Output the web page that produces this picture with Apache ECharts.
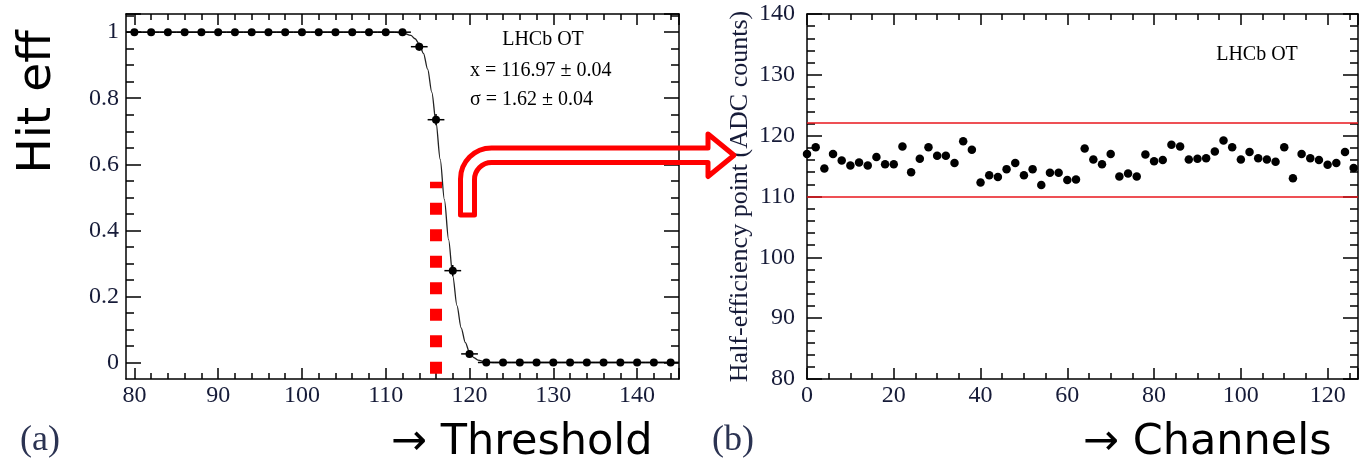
<!DOCTYPE html>
<html>
<head>
<meta charset="utf-8">
<script src="https://cdn.jsdelivr.net/npm/echarts@6/dist/echarts.min.js"></script>
<style>
html,body{margin:0;padding:0;background:#fff;}
#chart{width:1364px;height:466px;}
</style>
</head>
<body>
<div id="chart"></div>
<script>
// ---------- Panel (a): hit efficiency vs threshold ----------
const thresholds = [80,82,84,86,88,90,92,94,96,98,100,102,104,106,108,110,112,114,116,118,120,122,124,126,128,130,132,134,136,138,140,142,144];
const hitEff     = [1,1,1,1,1,1,1,1,1,1,1,1,1,1,1,1,1,0.956,0.735,0.278,0.026,0,0,0,0,0,0,0,0,0,0,0,0];
const hitEffErr  = [0,0,0,0,0,0,0,0,0,0,0,0,0,0,0,0,0,0.012,0.017,0.017,0.008,0,0,0,0,0,0,0,0,0,0,0,0];
const fitX = [79,110,111,112,113,113.5,114,114.5,115,115.5,116,116.5,117,117.5,118,118.5,119,119.5,120,120.5,121,122,123,145];
const fitY = [1,1,1,0.998,0.99,0.98,0.964,0.936,0.888,0.818,0.727,0.615,0.493,0.372,0.262,0.172,0.105,0.06,0.031,0.015,0.007,0.001,0,0];
const markerX = [116,116];
const markerY = [-0.034,0.547];
const xTicksA = [80,90,100,110,120,130,140];
const yTicksA = [0,0.2,0.4,0.6,0.8,1];

// ---------- Panel (b): half-efficiency point per channel ----------
const channels = [0,2,4,6,8,10,12,14,16,18,20,22,24,26,28,30,32,34,36,38,40,42,44,46,48,50,52,54,56,58,60,62,64,66,68,70,72,74,76,78,80,82,84,86,88,90,92,94,96,98,100,102,104,106,108,110,112,114,116,118,120,122,124,126];
const halfEff = [117.0,118.1,114.6,117.0,115.9,115.1,115.6,115.1,116.5,115.3,
                 115.3,118.2,114.0,116.2,118.1,116.7,116.7,115.5,119.1,117.7,
                 112.3,113.5,113.2,114.5,115.5,113.5,114.5,111.9,113.9,113.9,
                 112.7,112.8,117.9,116.1,115.3,117.0,113.3,113.8,113.3,116.9,
                 115.8,116.0,118.5,118.2,116.1,116.2,116.3,117.4,119.2,118.1,
                 116.1,117.3,116.3,116.1,115.7,118.1,113.0,117.0,116.3,116.0,
                 115.2,115.5,117.3,114.7];
const limitLines = [122.2,110];
const xTicksB = [0,20,40,60,80,100,120];
const yTicksB = [80,90,100,110,120,130,140];

// ---------- layout / style ----------
const W = 1364, H = 466;
const SERIF = '"Liberation Serif", "DejaVu Serif", serif';
const SANS = '"DejaVu Sans", Verdana, sans-serif';
const LABEL_COLOR = '#161b38';
const TICK = {color: '#000', width: 1.5};
const tickLabel = {fontFamily: SERIF, fontSize: 24, color: LABEL_COLOR};

// panel (a) frame range and geometry
const xA = [79, 145], yA = [-0.05, 1.055];
const gA = {left: 126, right: 685, top: 14, bottom: 87};
const pxPerX = (W - gA.left - gA.right) / (xA[1] - xA[0]);
const pxPerY = (H - gA.top - gA.bottom) / (yA[1] - yA[0]);
// overlay grids whose axis minimum sits on the first labelled tick
const gAx = {left: gA.left + (xTicksA[0] - xA[0]) * pxPerX, right: gA.right, top: gA.top, bottom: gA.bottom};
const gAy = {left: gA.left, right: gA.right, top: gA.top, bottom: gA.bottom + (yTicksA[0] - yA[0]) * pxPerY};
const gB = {left: 807, right: 6, top: 14, bottom: 87};

function frameAxis(grid, pos, min, max) {
  return {type: 'value', gridIndex: grid, position: pos, min: min, max: max,
    axisLine: {show: true, onZero: false, lineStyle: TICK},
    axisTick: {show: false}, axisLabel: {show: false}, splitLine: {show: false}};
}
function tickAxis(grid, pos, min, max, interval, minorSplit, majLen, minLen, label, extra) {
  return Object.assign({type: 'value', gridIndex: grid, position: pos, min: min, max: max, interval: interval,
    axisLine: {show: false, onZero: false},
    axisTick: {show: true, inside: true, length: majLen, lineStyle: TICK},
    minorTick: {show: true, splitNumber: minorSplit, length: minLen, lineStyle: TICK},
    axisLabel: label ? Object.assign({show: true}, label) : {show: false},
    splitLine: {show: false}, minorSplitLine: {show: false}}, extra || {});
}
function hiddenAxis(grid, min, max) {
  return {type: 'value', gridIndex: grid, min: min, max: max, show: false};
}

const xStepA = xTicksA[1] - xTicksA[0], yStepA = yTicksA[1] - yTicksA[0];
const xStepB = xTicksB[1] - xTicksB[0], yStepB = yTicksB[1] - yTicksB[0];
const xBmax = 127;

const xAxes = [
  frameAxis(0, 'bottom', xA[0], xA[1]),                                   // 0
  frameAxis(0, 'top', xA[0], xA[1]),                                      // 1
  tickAxis(1, 'bottom', xTicksB[0], xBmax, xStepB, 4, 11, 6,
           Object.assign({margin: 5, showMaxLabel: false}, tickLabel), {axisLine: {show: true, onZero: false, lineStyle: TICK}}), // 2
  tickAxis(1, 'top', xTicksB[0], xBmax, xStepB, 4, 11, 6, null, {axisLine: {show: true, onZero: false, lineStyle: TICK}}),     // 3
  tickAxis(2, 'bottom', xTicksA[0], xA[1], xStepA, 5, 11, 6,
           Object.assign({margin: 5, showMaxLabel: false}, tickLabel)),   // 4
  tickAxis(2, 'top', xTicksA[0], xA[1], xStepA, 5, 11, 6, null),          // 5
  hiddenAxis(3, xA[0], xA[1])                                             // 6
];
const yAxes = [
  frameAxis(0, 'left', yA[0], yA[1]),                                     // 0
  frameAxis(0, 'right', yA[0], yA[1]),                                    // 1
  tickAxis(1, 'left', yTicksB[0], yTicksB[yTicksB.length - 1], yStepB, 5, 15, 8,
           Object.assign({margin: 12}, tickLabel), {
             axisLine: {show: true, onZero: false, lineStyle: TICK},
             name: 'Half-efficiency point (ADC counts)', nameLocation: 'middle', nameGap: 54,
             nameTextStyle: {fontFamily: SERIF, fontSize: 26, color: LABEL_COLOR}}), // 2
  tickAxis(1, 'right', yTicksB[0], yTicksB[yTicksB.length - 1], yStepB, 5, 15, 8, null,
           {axisLine: {show: true, onZero: false, lineStyle: TICK}}),     // 3
  hiddenAxis(2, yA[0], yA[1]),                                            // 4
  tickAxis(3, 'left', yTicksA[0], yA[1], yStepA, 4, 15, 8,
           Object.assign({margin: 7, showMaxLabel: false}, tickLabel)),   // 5
  tickAxis(3, 'right', yTicksA[0], yA[1], yStepA, 4, 15, 8, null)         // 6
];

const effData = thresholds.map((x, i) => [x, hitEff[i], hitEffErr[i]]);
const fitData = fitX.map((x, i) => [x, fitY[i]]);
const markerData = markerX.map((x, i) => [x, markerY[i]]);
const chData = channels.map((c, i) => [c, halfEff[i]]);

const arrowPath = 'M460.5 215 L460.5 179 A31 31 0 0 1 491.5 148 L708 148 L708 134 L734 155.25 L708 176.5 L708 162.5 L491.5 162.5 A17 17 0 0 0 474.5 179.5 L474.5 215 Z';

const option = {
  animation: false,
  backgroundColor: '#fff',
  grid: [gA, gB, gAx, gAy],
  xAxis: xAxes,
  yAxis: yAxes,
  series: [
    {
      type: 'line', xAxisIndex: 0, yAxisIndex: 0, data: fitData,
      showSymbol: false, smooth: 0.3, smoothMonotone: 'x',
      lineStyle: {color: '#222', width: 1.3}, z: 2
    },
    {
      type: 'custom', xAxisIndex: 0, yAxisIndex: 0, data: effData,
      renderItem: function (params, api) {
        const x = api.value(0), y = api.value(1), e = api.value(2);
        const l = api.coord([x - 1, y]), r = api.coord([x + 1, y]);
        const children = [{type: 'line', shape: {x1: l[0], y1: l[1], x2: r[0], y2: r[1]}, style: {stroke: '#000', lineWidth: 1.5}}];
        if (e > 0) {
          const t = api.coord([x, y + e]), b = api.coord([x, y - e]);
          children.push({type: 'line', shape: {x1: t[0], y1: t[1], x2: b[0], y2: b[1]}, style: {stroke: '#000', lineWidth: 1.5}});
        }
        return {type: 'group', children: children};
      },
      z: 3
    },
    {
      type: 'scatter', xAxisIndex: 0, yAxisIndex: 0, data: effData.map(d => [d[0], d[1]]),
      symbol: 'circle', symbolSize: 8, itemStyle: {color: '#000', opacity: 1}, z: 4
    },
    {
      type: 'line', xAxisIndex: 0, yAxisIndex: 0, data: markerData,
      showSymbol: false, lineStyle: {color: '#ff0000', width: 12, type: [12, 14.5], cap: 'butt'}, z: 5
    },
    {
      type: 'scatter', xAxisIndex: 2, yAxisIndex: 2, data: chData,
      symbol: 'circle', symbolSize: 8.5, itemStyle: {color: '#000', opacity: 1}, clip: false, z: 4,
      markLine: {
        silent: true, symbol: ['none', 'none'], label: {show: false},
        lineStyle: {color: '#e8161c', width: 1.5, type: 'solid', opacity: 1},
        data: limitLines.map(v => ({yAxis: v}))
      }
    },
    {
      type: 'custom', coordinateSystem: 'none', data: [0], z: 100, silent: true,
      renderItem: function () {
        return {type: 'path', shape: {pathData: arrowPath},
                style: {fill: 'none', stroke: '#ff0000', lineWidth: 5, lineJoin: 'round'}};
      }
    }
  ],
  graphic: [
    {type: 'text', x: 38, y: 102, rotation: Math.PI/2,
     style: {text: 'Hit eff', font: '47px ' + SANS, fill: '#000', textAlign: 'center', textVerticalAlign: 'middle'}},
    {type: 'text', x: 543, y: 40,
     style: {text: 'LHCb OT', font: '20px ' + SERIF, fill: '#000', textAlign: 'center', textVerticalAlign: 'middle'}},
    {type: 'text', x: 470, y: 71,
     style: {text: 'x = 116.97 ± 0.04', font: '20px ' + SERIF, fill: '#000', textAlign: 'left', textVerticalAlign: 'middle'}},
    {type: 'text', x: 470, y: 100,
     style: {text: 'σ = 1.62 ± 0.04', font: '20px ' + SERIF, fill: '#000', textAlign: 'left', textVerticalAlign: 'middle'}},
    {type: 'text', x: 1257, y: 55,
     style: {text: 'LHCb OT', font: '20px ' + SERIF, fill: '#000', textAlign: 'center', textVerticalAlign: 'middle'}},
    {type: 'text', x: 40, y: 441,
     style: {text: '(a)', font: '36px ' + SERIF, fill: '#2b3352', textAlign: 'center', textVerticalAlign: 'middle'}},
    {type: 'text', x: 733, y: 441,
     style: {text: '(b)', font: '36px ' + SERIF, fill: '#2b3352', textAlign: 'center', textVerticalAlign: 'middle'}},
    {type: 'text', x: 391, y: 443,
     style: {text: '→ Threshold', font: '43px ' + SANS, fill: '#000', textAlign: 'left', textVerticalAlign: 'middle'}},
    {type: 'text', x: 1083, y: 443,
     style: {text: '→ Channels', font: '43px ' + SANS, fill: '#000', textAlign: 'left', textVerticalAlign: 'middle'}}
  ]
};

const chart = echarts.init(document.getElementById('chart'), null, {renderer: 'canvas'});
chart.setOption(option);
</script>
</body>
</html>
